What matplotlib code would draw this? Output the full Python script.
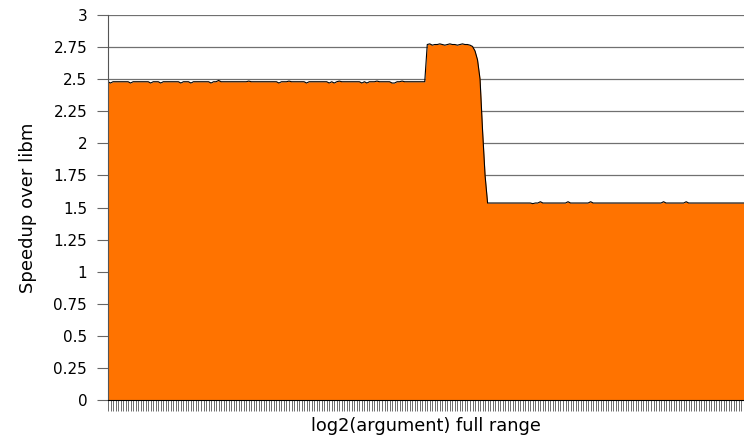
import numpy as np
import matplotlib.pyplot as plt

# speedup per exponent (254 points, left to right)
low_plateau = [
    2.48, 2.47, 2.48, 2.48, 2.48, 2.48, 2.48, 2.48, 2.48, 2.47,
    2.48, 2.48, 2.48, 2.48, 2.48, 2.48, 2.48, 2.47, 2.48, 2.48,
    2.48, 2.47, 2.48, 2.48, 2.48, 2.48, 2.48, 2.48, 2.48, 2.47,
    2.48, 2.48, 2.48, 2.47, 2.48, 2.48, 2.48, 2.48, 2.48, 2.48,
    2.48, 2.47, 2.48, 2.48, 2.49, 2.48, 2.48, 2.48, 2.48, 2.48,
    2.48, 2.48, 2.48, 2.48, 2.48, 2.48, 2.485, 2.48, 2.48, 2.48,
    2.48, 2.48, 2.48, 2.48, 2.48, 2.48, 2.48, 2.48, 2.47, 2.48,
    2.48, 2.48, 2.485, 2.48, 2.48, 2.48, 2.48, 2.48, 2.48, 2.47,
    2.48, 2.48, 2.48, 2.48, 2.48, 2.48, 2.48, 2.48, 2.47, 2.48,
    2.47, 2.48, 2.485, 2.48, 2.48, 2.48, 2.48, 2.48, 2.48, 2.48,
    2.48, 2.47, 2.48, 2.47, 2.48, 2.48, 2.48, 2.485, 2.48, 2.48,
    2.48, 2.48, 2.48, 2.47, 2.47, 2.48, 2.48, 2.485, 2.48, 2.48,
    2.48, 2.48, 2.48, 2.48, 2.48, 2.48, 2.48,
]
high_plateau = [
    2.77, 2.775, 2.765, 2.77, 2.77, 2.775, 2.77, 2.765, 2.77, 2.775,
    2.77, 2.77, 2.765, 2.77, 2.775, 2.77, 2.77, 2.765,
]
drop = [2.755, 2.72, 2.65, 2.50, 2.10, 1.75]
tail = [
    1.535, 1.535, 1.535, 1.535, 1.535, 1.535, 1.535, 1.535, 1.535, 1.535,
    1.535, 1.535, 1.535, 1.535, 1.535, 1.535, 1.535, 1.535, 1.53, 1.535,
    1.535, 1.545, 1.535, 1.535, 1.535, 1.535, 1.535, 1.535, 1.535, 1.535,
    1.535, 1.535, 1.545, 1.535, 1.535, 1.535, 1.535, 1.535, 1.535, 1.535,
    1.535, 1.545, 1.535, 1.535, 1.535, 1.535, 1.535, 1.535, 1.535, 1.535,
    1.535, 1.535, 1.535, 1.535, 1.535, 1.535, 1.535, 1.535, 1.535, 1.535,
    1.535, 1.535, 1.535, 1.535, 1.535, 1.535, 1.535, 1.535, 1.535, 1.535,
    1.545, 1.535, 1.535, 1.535, 1.535, 1.535, 1.535, 1.535, 1.535, 1.545,
    1.535, 1.535, 1.535, 1.535, 1.535, 1.535, 1.535, 1.535, 1.535, 1.535,
    1.535, 1.535, 1.535, 1.535, 1.535, 1.535, 1.535, 1.535, 1.535, 1.535,
    1.535, 1.535, 1.535,
]
speedup = low_plateau + high_plateau + drop + tail
yticks = [0, 0.25, 0.5, 0.75, 1, 1.25, 1.5, 1.75, 2, 2.25, 2.5, 2.75, 3]
ytick_labels = ['0', '0.25', '0.5', '0.75', '1', '1.25', '1.5', '1.75', '2',
                '2.25', '2.5', '2.75', '3']

x = np.arange(len(speedup))

fig = plt.figure(figsize=(7.44, 4.48), dpi=100)
ax = fig.add_axes([108 / 744, 48 / 448, 636 / 744, 385 / 448])

ax.fill_between(x, speedup, 0, color='#ff7300', lw=0, zorder=2)
ax.plot(x, speedup, color='black', lw=0.8, zorder=3)

ax.set_xlim(0, len(speedup) - 1)
ax.set_ylim(0, 3)
ax.set_yticks(yticks)
ax.set_yticklabels(ytick_labels)
ax.set_xticks(x)
ax.set_xticklabels([])

ax.set_axisbelow(True)
ax.yaxis.grid(True, color='#707070', lw=0.9)
ax.xaxis.grid(False)

for side in ['top', 'right']:
    ax.spines[side].set_visible(False)
ax.spines['left'].set_color('#555555')
ax.spines['left'].set_zorder(4)
ax.spines['bottom'].set_color('black')
ax.spines['bottom'].set_zorder(4)

ax.tick_params(axis='y', length=8, width=0.8, color='#666666', pad=7,
               labelsize=11)
ax.tick_params(axis='x', length=8, width=0.6, color='#555555')

ax.set_ylabel('Speedup over libm', fontsize=13, labelpad=12)
ax.set_xlabel('log2(argument) full range', fontsize=12.8, labelpad=1)

plt.savefig('out.png', dpi=100)
